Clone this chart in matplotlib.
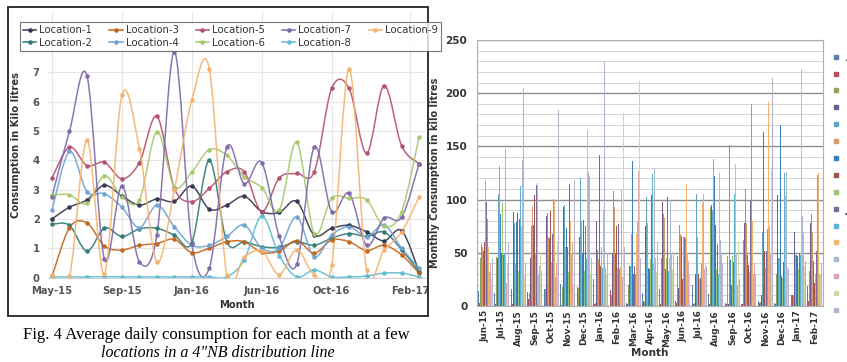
import matplotlib.pyplot as plt
import numpy as np
from matplotlib.path import Path
from matplotlib.patches import PathPatch, Rectangle
from matplotlib.lines import Line2D

# ---------------- left chart: average daily consumption (kilo litres) ----------------
loc_names = ['Location-1', 'Location-2', 'Location-3', 'Location-4', 'Location-5',
             'Location-6', 'Location-7', 'Location-8', 'Location-9']
loc_colors = ['#34344e', '#2f7b76', '#c0661a', '#6fa2d2', '#b4506c',
              '#a8c86c', '#7e68a8', '#5cbcd0', '#f6b26e']

loc1 = [2.0, 2.4, 2.65, 3.15, 2.78, 2.47, 2.68, 2.6, 3.12, 2.33, 2.47, 2.77, 2.25, 2.22, 2.6, 1.45, 1.68, 1.78, 1.56, 1.25, 1.6, 0.2]
loc2 = [1.82, 1.78, 0.9, 1.69, 1.4, 1.66, 1.68, 1.45, 1.19, 4.0, 1.22, 1.22, 1.05, 1.03, 1.22, 1.1, 1.34, 1.5, 1.4, 1.55, 0.95, 0.2]
loc3 = [0.04, 1.7, 1.86, 1.07, 0.94, 1.1, 1.16, 1.3, 0.85, 1.0, 1.22, 1.22, 0.86, 0.9, 1.26, 0.83, 1.28, 1.22, 0.92, 1.1, 0.77, 0.15]
loc4 = [2.3, 4.3, 2.93, 2.86, 2.4, 1.7, 2.47, 1.73, 1.1, 1.1, 1.4, 1.79, 1.0, 1.0, 2.07, 0.71, 1.45, 1.73, 1.39, 1.79, 1.0, 0.32]
loc5 = [3.4, 4.45, 3.82, 3.93, 3.37, 3.92, 5.5, 3.05, 2.59, 3.04, 3.61, 3.61, 2.25, 3.4, 3.55, 3.6, 6.45, 6.45, 4.24, 6.55, 4.5, 3.88]
loc6 = [2.82, 2.82, 2.53, 3.48, 2.75, 2.65, 4.97, 3.1, 3.6, 4.36, 4.17, 3.44, 3.07, 2.3, 4.62, 1.5, 2.7, 2.7, 2.65, 1.75, 2.25, 4.78]
loc7 = [2.76, 5.0, 6.88, 0.62, 3.13, 0.54, 1.45, 7.7, 1.15, 0.32, 4.45, 3.2, 3.92, 1.4, 0.45, 4.45, 2.25, 2.87, 1.1, 2.03, 2.05, 3.88]
loc8 = [0.02, 0.02, 0.02, 0.03, 0.02, 0.02, 0.02, 0.02, 0.02, 0.02, 0.02, 0.6, 2.1, 0.75, 0.02, 0.26, 0.02, 0.02, 0.05, 0.15, 0.15, 0.02]
loc9 = [0.08, 0.04, 4.68, 0.12, 6.22, 4.4, 0.54, 3.0, 6.05, 7.12, 0.08, 0.7, 0.9, 0.1, 0.95, 0.1, 0.42, 7.12, 0.26, 0.95, 1.55, 2.75]
loc_values = [loc1, loc2, loc3, loc4, loc5, loc6, loc7, loc8, loc9]

month_idx = list(range(22))  # May-15 .. Feb-17
left_tick_pos = [0, 4, 8, 12, 16, 20.5]
left_tick_labels = ['May-15', 'Sep-15', 'Jan-16', 'Jun-16', 'Oct-16', 'Feb-17']

# ---------------- right chart: monthly consumption (kilo litres) ----------------
months = ['Jun-15', 'Jul-15', 'Aug-15', 'Sep-15', 'Oct-15', 'Nov-15', 'Dec-15',
          'Jan-16', 'Feb-16', 'Mar-16', 'Apr-16', 'May-16', 'Jun-16', 'Jul-16',
          'Aug-16', 'Sep-16', 'Oct-16', 'Nov-16', 'Dec-16', 'Jan-17', 'Feb-17']
bar_names = list('ABCDEFGHIJKLMNOP')
bar_colors = ['#5b7fab', '#b94f58', '#8fa25e', '#6c5b8c', '#5fa6c2', '#d89a6a',
              '#3c80b8', '#a05650', '#9dc474', '#7b6b9a', '#5ab4d0', '#f2b56c',
              '#a9b7cf', '#d8a7b0', '#cfd9a8', '#bab2c9']

A = [14, 12, 16, 13, 16, 21, 18, 25, 11, 3, 12, 16, 5, 20, 11, 3, 2, 5, 3, 10, 19]
B = [3, 2, 2, 7, 2, 1, 2, 2, 15, 2, 5, 2, 3, 2, 2, 2, 2, 3, 2, 10, 5]
C = [45, 46, 20, 12, 16, 18, 17, 3, 10, 20, 4, 45, 47, 3, 93, 47, 62, 4, 30, 10, 33]
D = [80, 45, 88, 45, 85, 93, 65, 80, 50, 38, 75, 98, 17, 30, 95, 2, 78, 10, 104, 70, 78]
E = [58, 105, 78, 75, 87, 95, 120, 53, 108, 38, 102, 86, 76, 105, 90, 151, 110, 70, 45, 128, 86]
F = [55, 132, 40, 93, 65, 55, 80, 44, 93, 68, 78, 83, 68, 65, 138, 55, 78, 72, 45, 48, 70]
G = [52, 86, 79, 76, 64, 73, 50, 142, 50, 136, 36, 35, 66, 33, 122, 43, 48, 164, 170, 48, 42]
H = [60, 50, 87, 104, 89, 55, 81, 38, 75, 30, 35, 83, 25, 30, 76, 20, 39, 52, 28, 47, 22]
I = [118, 97, 33, 50, 41, 32, 33, 55, 36, 38, 44, 45, 65, 25, 35, 47, 32, 36, 26, 35, 30]
J = [98, 48, 82, 114, 68, 115, 75, 44, 77, 38, 104, 102, 65, 26, 58, 41, 100, 52, 41, 50, 52]
K = [82, 50, 113, 50, 101, 130, 45, 36, 35, 30, 124, 33, 64, 40, 30, 105, 190, 72, 125, 48, 123]
L = [55, 132, 75, 116, 100, 80, 165, 90, 37, 68, 40, 45, 115, 97, 125, 133, 80, 192, 103, 223, 125]
M = [32, 148, 137, 30, 27, 50, 126, 229, 110, 80, 130, 100, 50, 105, 62, 50, 30, 75, 126, 85, 60]
N = [40, 22, 205, 38, 40, 60, 122, 36, 27, 127, 45, 50, 42, 35, 50, 20, 40, 50, 28, 70, 30]
O = [25, 40, 30, 50, 60, 20, 30, 30, 181, 211, 32, 35, 30, 40, 30, 60, 60, 130, 37, 38, 30]
P = [45, 60, 40, 33, 184, 118, 45, 50, 55, 45, 60, 50, 30, 38, 40, 25, 30, 214, 35, 42, 40]
bar_values = [A, B, C, D, E, F, G, H, I, J, K, L, M, N, O, P]


def smooth_path(x, y):
    # excel-like smoothed line (catmull-rom as cubic bezier)
    n = len(x)
    verts = [(x[0], y[0])]
    codes = [Path.MOVETO]
    for i in range(n - 1):
        xp, yp = (x[i - 1], y[i - 1]) if i > 0 else (x[i], y[i])
        xn, yn = (x[i + 2], y[i + 2]) if i + 2 < n else (x[i + 1], y[i + 1])
        c1 = (x[i] + (x[i + 1] - xp) / 6, y[i] + (y[i + 1] - yp) / 6)
        c2 = (x[i + 1] - (xn - x[i]) / 6, y[i + 1] - (yn - y[i]) / 6)
        verts += [c1, c2, (x[i + 1], y[i + 1])]
        codes += [Path.CURVE4] * 3
    return Path(verts, codes)


W, H_ = 847, 362
fig = plt.figure(figsize=(8.47, 3.62), dpi=100)


def fx(px):
    return px / W


def fy(py):
    return 1 - py / H_


# frame around left chart
fig.patches.append(Rectangle((fx(8), fy(316)), fx(428) - fx(8), fy(7) - fy(316),
                             transform=fig.transFigure, fill=False,
                             edgecolor='#222222', linewidth=1.3))

ax1 = fig.add_axes([fx(48), fy(277.5), fx(425) - fx(48), fy(12) - fy(277.5)])
for vals, col in zip(loc_values, loc_colors):
    ax1.add_patch(PathPatch(smooth_path(month_idx, vals), facecolor='none',
                            edgecolor=col, linewidth=1.1, alpha=0.9))
    ax1.plot(month_idx, vals, linestyle='none', marker='o', markersize=2.3,
             color=col, alpha=0.9)

ax1.set_xlim(-0.23, 21.34)
ax1.set_ylim(0, 9.06)
ax1.set_yticks(range(0, 8))
ax1.set_xticks(left_tick_pos)
ax1.set_xticklabels(left_tick_labels)
ax1.tick_params(length=0, labelsize=7.2, colors='#555555', pad=6)
for t in ax1.get_yticklabels() + ax1.get_xticklabels():
    t.set_fontweight('bold')
ax1.grid(True, color='#e6e6e6', linewidth=0.8)
ax1.set_axisbelow(True)
for s in ['top', 'right', 'left']:
    ax1.spines[s].set_visible(False)
ax1.spines['bottom'].set_color('#d0d0d0')
ax1.set_xlabel('Month', fontsize=7.2, fontweight='bold', color='#333333', labelpad=3)
ax1.set_ylabel('Consumption in Kilo litres', fontsize=7.2, fontweight='bold',
               color='#333333', labelpad=8)

handles = [Line2D([], [], color=c, marker='o', markersize=2.3, linewidth=1.1)
           for c in loc_colors]
leg1 = fig.legend(handles, loc_names, loc='upper left',
                  bbox_to_anchor=(fx(15), fy(17)), ncol=5, fontsize=7.3,
                  frameon=True, fancybox=False, edgecolor='#555555',
                  handlelength=1.3, handletextpad=0.3, columnspacing=1.7,
                  borderpad=0.3, labelspacing=0.25)
leg1.get_frame().set_linewidth(0.8)
for t in leg1.get_texts():
    t.set_color('#333333')

fig.text(fx(216), fy(335), 'Fig. 4 Average daily consumption for each month at a few',
         ha='center', va='center', fontsize=12, family='Liberation Serif')
fig.text(fx(218), fy(353), 'locations in a 4"NB distribution line',
         ha='center', va='center', fontsize=11.5, family='Liberation Serif', style='italic')

# ---------------- right chart ----------------
ax2 = fig.add_axes([fx(477), fy(306), fx(823) - fx(477), fy(40) - fy(306)])
n_ser = len(bar_values)
bw = 1 / (n_ser + 1.5)
x = np.arange(len(months))
for j, (vals, col) in enumerate(zip(bar_values, bar_colors)):
    ax2.bar(x + (j - (n_ser - 1) / 2) * bw, vals, width=bw, color=col, linewidth=0)

ax2.set_xlim(-0.5, len(months) - 0.5)
ax2.set_ylim(0, 250)
ax2.set_yticks(range(0, 251, 50))
ax2.set_yticks(range(0, 251, 10), minor=True)
ax2.grid(True, axis='y', which='major', color='#8c8c8c', linewidth=1.0)
ax2.grid(True, axis='y', which='minor', color='#d4d4d4', linewidth=0.7)
ax2.set_axisbelow(True)
ax2.set_xticks(x)
ax2.set_xticklabels(months, rotation=90)
ax2.tick_params(axis='both', which='both', length=0)
ax2.tick_params(axis='y', labelsize=7.5, colors='#333333', pad=7)
ax2.tick_params(axis='x', labelsize=6.4, colors='#333333', pad=3)
for t in ax2.get_yticklabels() + ax2.get_xticklabels():
    t.set_fontweight('bold')
for s in ax2.spines.values():
    s.set_color('#b0b0b0')
    s.set_linewidth(0.8)
ax2.set_xlabel('Month', fontsize=7.5, fontweight='bold', color='#333333', labelpad=1)
ax2.set_ylabel('Monthly Consumption in kilo litres', fontsize=7, fontweight='bold',
               color='#333333', labelpad=4)

bar_handles = [Line2D([], [], linestyle='none', marker='s', markersize=3.5, color=c)
               for c in bar_colors]
leg2 = fig.legend(bar_handles, bar_names, loc='upper left',
                  bbox_to_anchor=(fx(826), fy(47)), ncol=1, fontsize=8,
                  frameon=False, handlelength=0.8, handletextpad=0.5,
                  labelspacing=0.62, borderpad=0)
for t in leg2.get_texts():
    t.set_color('#222222')
    t.set_fontweight('bold')

fig.savefig('out.png', dpi=100)
